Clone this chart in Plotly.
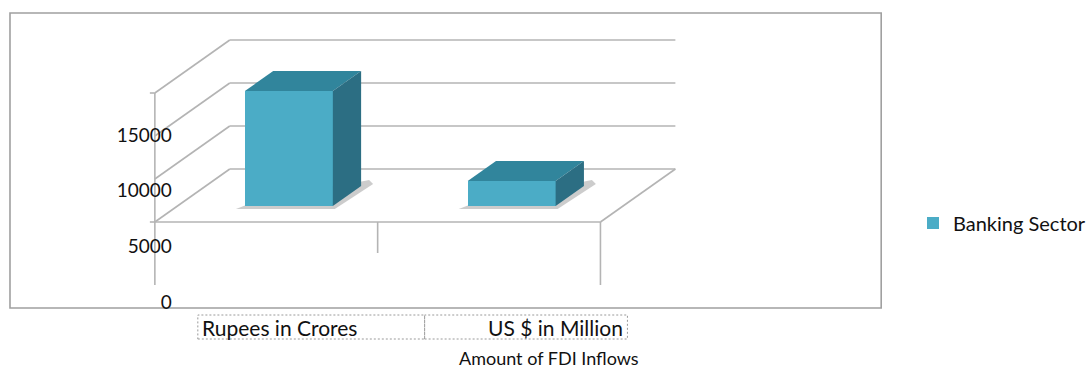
import plotly.graph_objects as go

# ---- data ----
categories = ["Rupees in Crores", "US $ in Million"]
values = [13370, 2900]
series_name = "Banking Sector"
tick_values = [0, 5000, 10000, 15000]
axis_title = "Amount of FDI Inflows"

W, H = 1091, 368
FONT = "Lato, 'Open Sans', sans-serif"

# ---- pseudo-3D geometry (pixel layout constants) ----
PX_PER_UNIT = 43 / 5000.0          # vertical pixels per value unit
FLOOR_Y = 222                      # pixel y of front floor edge
X0, X1 = 155, 601                  # front floor left/right
DEPTH_DX, DEPTH_DY = 75, 53        # full depth offset (px)
BAR_D0, BAR_D1 = 16 / 53, 36 / 53  # bar depth fraction (front, back)
BAR_W = 88
cat_w = (X1 - X0) / len(categories)
U = 1 / PX_PER_UNIT                # value units per vertical pixel


def v_of_px(ypx):
    return (FLOOR_Y - ypx) / PX_PER_UNIT


def pt(x, v, d):
    """front x, value, depth fraction -> data coords (x px, y value)"""
    return x + d * DEPTH_DX, v + d * DEPTH_DY / PX_PER_UNIT


fig = go.Figure()
shapes = []
grid = dict(color="#b4b4b4", width=1.6)

def line(p, q, ln=grid):
    shapes.append(dict(type="line", xref="x", yref="y", x0=p[0], y0=p[1],
                       x1=q[0], y1=q[1], line=ln, layer="below"))

ymax_grid = max(tick_values)
for t in tick_values:
    line(pt(X0, t, 1), pt(X1, t, 1))   # back wall gridline
    line(pt(X0, t, 0), pt(X0, t, 1))   # left wall slant
line(pt(X0, 0, 0), pt(X1, 0, 0))       # floor front edge
line(pt(X1, 0, 0), pt(X1, 0, 1))       # floor right edge
line((X0, ymax_grid), (X0, v_of_px(285)))
line((X1, 0), (X1, v_of_px(285)))
line((X0 + cat_w, 0), (X0 + cat_w, v_of_px(253)))
line((X0 - 5, ymax_grid), (X0, ymax_grid))
line((X0 - 5, 0), (X0, 0))

# outer plot-area border
shapes.append(dict(type="rect", xref="paper", yref="paper",
                   x0=10 / W, x1=882 / W, y0=1 - 308 / H, y1=1 - 13 / H,
                   line=dict(color="#a0a0a0", width=1.6), layer="below"))
# dashed category label boxes
box_edges = [198, 425, 628]
for i in range(len(categories)):
    shapes.append(dict(type="rect", xref="paper", yref="paper",
                       x0=box_edges[i] / W, x1=box_edges[i + 1] / W,
                       y0=1 - 339 / H, y1=1 - 315 / H,
                       line=dict(color="#9a9a9a", width=1, dash="2px,2px"),
                       layer="below"))

FRONT = "#4BACC6"
TOP = "#31859C"
SIDE = "#2C6E83"

centers = [X0 + (i + 0.5) * cat_w + BAR_D0 * DEPTH_DX for i in range(len(categories))]
base_v = BAR_D0 * DEPTH_DY / PX_PER_UNIT
dd = BAR_D1 - BAR_D0
ddx = dd * DEPTH_DX
ddv = dd * DEPTH_DY / PX_PER_UNIT

# soft shadows under the bars (below traces)
for c in centers:
    xl, xr = c - BAR_W / 2, c + BAR_W / 2
    pts = [(xl - 9, base_v - 3 * U), (xr + 2, base_v - 3 * U),
           (xr + ddx + 12, base_v + ddv + 2 * U), (xr + ddx + 8, base_v + ddv + 6 * U),
           (xl + 4, base_v + 2 * U)]
    path = "M " + " L ".join(f"{x},{y}" for x, y in pts) + " Z"
    shapes.append(dict(type="path", xref="x", yref="y", path=path,
                       fillcolor="rgba(110,110,110,0.35)", line=dict(width=0),
                       layer="below"))

# front faces
fig.add_trace(go.Bar(x=centers, y=values, base=base_v, width=BAR_W,
                     marker=dict(color=FRONT, line=dict(width=0)),
                     name=series_name, showlegend=True))

# top and side faces
for c, v in zip(centers, values):
    xl, xr = c - BAR_W / 2, c + BAR_W / 2
    top_v = base_v + v
    fig.add_trace(go.Scatter(
        x=[xl, xr, xr + ddx, xl + ddx, xl],
        y=[top_v, top_v, top_v + ddv, top_v + ddv, top_v],
        fill="toself", fillcolor=TOP, line=dict(width=0, color=TOP),
        mode="lines", showlegend=False, hoverinfo="skip"))
    fig.add_trace(go.Scatter(
        x=[xr, xr, xr + ddx, xr + ddx, xr],
        y=[base_v, top_v, top_v + ddv, base_v + ddv, base_v],
        fill="toself", fillcolor=SIDE, line=dict(width=0, color=SIDE),
        mode="lines", showlegend=False, hoverinfo="skip"))

# tick-label axis
lab_top, lab_zero = 135, 302
per = (lab_zero - lab_top) / max(tick_values)
y2_lo = -(H - lab_zero) / per
y2_hi = lab_zero / per
fig.add_trace(go.Scatter(x=[None], y=[None], yaxis="y2", showlegend=False))

annotations = [
    dict(text=categories[0], x=200 / W, y=1 - 327 / H, xref="paper", yref="paper",
         xanchor="left", yanchor="middle", showarrow=False,
         font=dict(family=FONT, size=21, color="#111")),
    dict(text=categories[1], x=626 / W, y=1 - 327 / H, xref="paper", yref="paper",
         xanchor="right", yanchor="middle", showarrow=False,
         font=dict(family=FONT, size=21, color="#111")),
    dict(text=axis_title, x=550 / W, y=1 - 358 / H, xref="paper", yref="paper",
         xanchor="center", yanchor="middle", showarrow=False,
         font=dict(family=FONT, size=18, color="#111")),
]

fig.update_layout(
    width=W, height=H, margin=dict(l=0, r=0, t=0, b=0),
    paper_bgcolor="white", plot_bgcolor="white",
    xaxis=dict(range=[0, W], visible=False, fixedrange=True),
    yaxis=dict(range=[v_of_px(H), v_of_px(0)], visible=False, fixedrange=True),
    yaxis2=dict(range=[y2_lo, y2_hi], overlaying="y", anchor="free", side="left",
                position=172 / W, tickvals=tick_values,
                ticktext=[str(t) for t in tick_values], showgrid=False,
                zeroline=False, showline=False, ticks="",
                tickfont=dict(family=FONT, size=19, color="#111")),
    shapes=shapes, annotations=annotations,
    showlegend=True,
    legend=dict(x=914 / W, y=1 - 223 / H, xanchor="left", yanchor="middle",
                font=dict(family=FONT, size=20, color="#111"),
                bgcolor="rgba(0,0,0,0)", itemwidth=30),
    bargap=0,
)

fig.write_html("out.html")
